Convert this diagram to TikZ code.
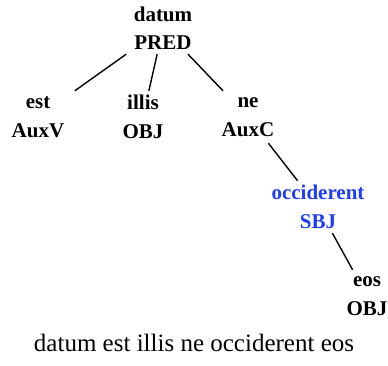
\documentclass[tikz,border=0pt]{standalone}
\usepackage{fontspec}
\setmainfont{Liberation Serif}[BoldFont={Liberation Serif Bold}]
\usetikzlibrary{positioning}

\definecolor{sbjblue}{RGB}{30,60,250}

\tikzset{
	word/.style={align=center, inner sep=0pt, minimum width=80pt, minimum height=52pt,
		font=\fontsize{21}{28.5}\selectfont\bfseries},
	dep/.style={-, line width=1.4pt}
}

\begin{document}
\begin{tikzpicture}[x=1pt, y=-1pt]

	\useasboundingbox (0,0) rectangle (388,366);

	% tree
	\node[word] (datum) at (163, 28) {datum\\PRED};

	\node[word] (est) at (38, 117) {est\\AuxV};
	\node[word] (illis) at (143, 117) {illis\\OBJ};
	\node[word] (ne) at (248, 117) {ne\\AuxC};

	\node[word, text=sbjblue] (occiderent) at (318, 207) {occiderent\\SBJ};

	\node[word] (eos) at (367, 296) {eos\\OBJ};

	\draw[dep] (datum) -- (est);
	\draw[dep] (datum) -- (illis);
	\draw[dep] (datum) -- (ne);
	\draw[dep] (ne) -- (occiderent);
	\draw[dep] (occiderent) -- (eos);

	% sentence
	\node[font=\fontsize{25}{30}\selectfont] (sentence) at (194, 343) {datum est illis ne occiderent eos};

\end{tikzpicture}
\end{document}
